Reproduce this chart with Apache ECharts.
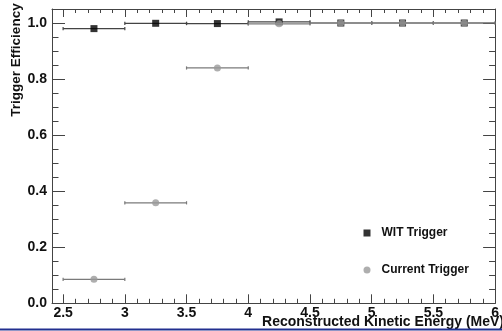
<!DOCTYPE html>
<html>
<head>
<meta charset="utf-8">
<script src="https://cdn.jsdelivr.net/npm/echarts@6/dist/echarts.min.js"></script>
<style>
html,body{margin:0;padding:0;background:#fff;}
#chart{width:502px;height:331px;}
</style>
</head>
<body>
<div id="chart"></div>
<script>
// ---- data ----
const binCenters = [2.75, 3.25, 3.75, 4.25, 4.75, 5.25, 5.75];
const binHalfWidth = [0.25, 0.25, 0.25, 0.25, 0.25, 0.25, 0.25];
const witEff = [0.980, 0.999, 0.998, 1.004, 1.000, 1.000, 1.000];
const currentEff = [0.0855, 0.3585, 0.8396, 0.997, 1.000, 1.000, 1.000];
const xMajorTicks = [2.5, 3, 3.5, 4, 4.5, 5, 5.5, 6];
const xMinorTicks = [2.6, 2.7, 2.8, 2.9, 3.1, 3.2, 3.3, 3.4, 3.6, 3.7, 3.8, 3.9,
  4.1, 4.2, 4.3, 4.4, 4.6, 4.7, 4.8, 4.9, 5.1, 5.2, 5.3, 5.4, 5.6, 5.7, 5.8, 5.9];
const yMajorTicks = [0, 0.2, 0.4, 0.6, 0.8, 1.0];
const yMinorTicks = [0.05, 0.1, 0.15, 0.25, 0.3, 0.35, 0.45, 0.5, 0.55, 0.65, 0.7, 0.75, 0.85, 0.9, 0.95];
const seriesNames = ['WIT Trigger', 'Current Trigger'];
const xTitle = 'Reconstructed Kinetic Energy (MeV)';
const yTitle = 'Trigger Efficiency';

const FONT = '"Liberation Sans", Arial, Helvetica, sans-serif';
const AX = '#444';
const X_MIN = 2.41, X_MAX = 6.0, Y_MIN = 0, Y_MAX = 1.05;

function errRender(color) {
  return function (params, api) {
    const x = api.value(0), y = api.value(1), e = api.value(2);
    const p1 = api.coord([x - e, y]);
    const p2 = api.coord([x + e, y]);
    const cap = 1.6;
    const st = { stroke: color, lineWidth: 1.2 };
    return {
      type: 'group',
      children: [
        { type: 'line', shape: { x1: p1[0], y1: p1[1], x2: p2[0], y2: p2[1] }, style: st },
        { type: 'line', shape: { x1: p1[0], y1: p1[1] - cap, x2: p1[0], y2: p1[1] + cap }, style: st },
        { type: 'line', shape: { x1: p2[0], y1: p2[1] - cap, x2: p2[0], y2: p2[1] + cap }, style: st }
      ]
    };
  };
}

function xAxisDef(pos, ticks, len, showLine, showLabel) {
  return {
    type: 'value', min: X_MIN, max: X_MAX, position: pos,
    axisLine: { show: showLine, onZero: false, lineStyle: { color: AX, width: 1 } },
    axisTick: { show: true, inside: true, length: len, customValues: ticks, lineStyle: { color: AX, width: 1 } },
    axisLabel: showLabel ? {
      show: true, customValues: ticks, margin: 3, color: '#111',
      fontSize: 14, fontWeight: 'bold', fontFamily: FONT
    } : { show: false },
    splitLine: { show: false }
  };
}
function yAxisDef(pos, ticks, len, showLine, showLabel) {
  return {
    type: 'value', min: Y_MIN, max: Y_MAX, position: pos,
    axisLine: { show: showLine, onZero: false, lineStyle: { color: AX, width: 1 } },
    axisTick: { show: true, inside: true, length: len, customValues: ticks, lineStyle: { color: AX, width: 1 } },
    axisLabel: showLabel ? {
      show: true, customValues: ticks, margin: 5, color: '#111',
      fontSize: 14, fontWeight: 'bold', fontFamily: FONT,
      formatter: v => Number(v).toFixed(1)
    } : { show: false },
    splitLine: { show: false }
  };
}

const chart = echarts.init(document.getElementById('chart'), null, { renderer: 'canvas' });
chart.setOption({
  animation: false,
  backgroundColor: '#fff',
  grid: { left: 52, right: 1.5, top: 9, bottom: 27.7, containLabel: false },
  xAxis: [
    xAxisDef('bottom', xMajorTicks, 9, true, true),
    xAxisDef('bottom', xMinorTicks, 4.5, false, false),
    xAxisDef('top', xMajorTicks, 8, true, false),
    xAxisDef('top', xMinorTicks, 4, false, false)
  ],
  yAxis: [
    yAxisDef('left', yMajorTicks, 13, true, true),
    yAxisDef('left', yMinorTicks, 6.5, false, false),
    yAxisDef('right', yMajorTicks, 12, true, false),
    yAxisDef('right', yMinorTicks, 6, false, false)
  ],
  legend: {
    orient: 'vertical', left: 363.5, top: 226, padding: 0, itemWidth: 7, itemHeight: 7, itemGap: 23,
    selectedMode: false,
    textStyle: { fontSize: 12, fontWeight: 'bold', fontFamily: FONT, color: '#111', lineHeight: 14, padding: [0, 0, 0, 6] },
    data: [{ name: seriesNames[0], icon: 'rect' }, { name: seriesNames[1], icon: 'circle' }]
  },
  series: [
    {
      type: 'custom', name: 'witErr', renderItem: errRender('#444'),
      data: binCenters.map((x, i) => [x, witEff[i], binHalfWidth[i]]), z: 2, silent: true
    },
    {
      type: 'scatter', name: seriesNames[0], symbol: 'rect', symbolSize: 7,
      itemStyle: { color: '#000' },
      data: binCenters.map((x, i) => [x, witEff[i]]), z: 3
    },
    {
      type: 'custom', name: 'curErr', renderItem: errRender('#7a7a7a'),
      data: binCenters.map((x, i) => [x, currentEff[i], binHalfWidth[i]]), z: 4, silent: true
    },
    {
      type: 'scatter', name: seriesNames[1], symbol: 'circle', symbolSize: 7,
      itemStyle: { color: '#9a9a9a' },
      data: binCenters.map((x, i) => [x, currentEff[i]]), z: 5
    }
  ],
  graphic: [
    {
      type: 'text', x: 504, y: 322, z: 10,
      style: { text: xTitle, textAlign: 'right', textVerticalAlign: 'middle',
        font: 'bold 14px ' + FONT, fill: '#111' }
    },
    {
      type: 'text', x: 16, y: 60, rotation: Math.PI / 2, z: 10,
      style: { text: yTitle, textAlign: 'center', textVerticalAlign: 'middle',
        font: 'bold 13.5px ' + FONT, fill: '#111' }
    },
    {
      type: 'rect', shape: { x: 0, y: 328.5, width: 502, height: 2 }, z: 20,
      style: { fill: '#22308f' }
    }
  ]
});
</script>
</body>
</html>
